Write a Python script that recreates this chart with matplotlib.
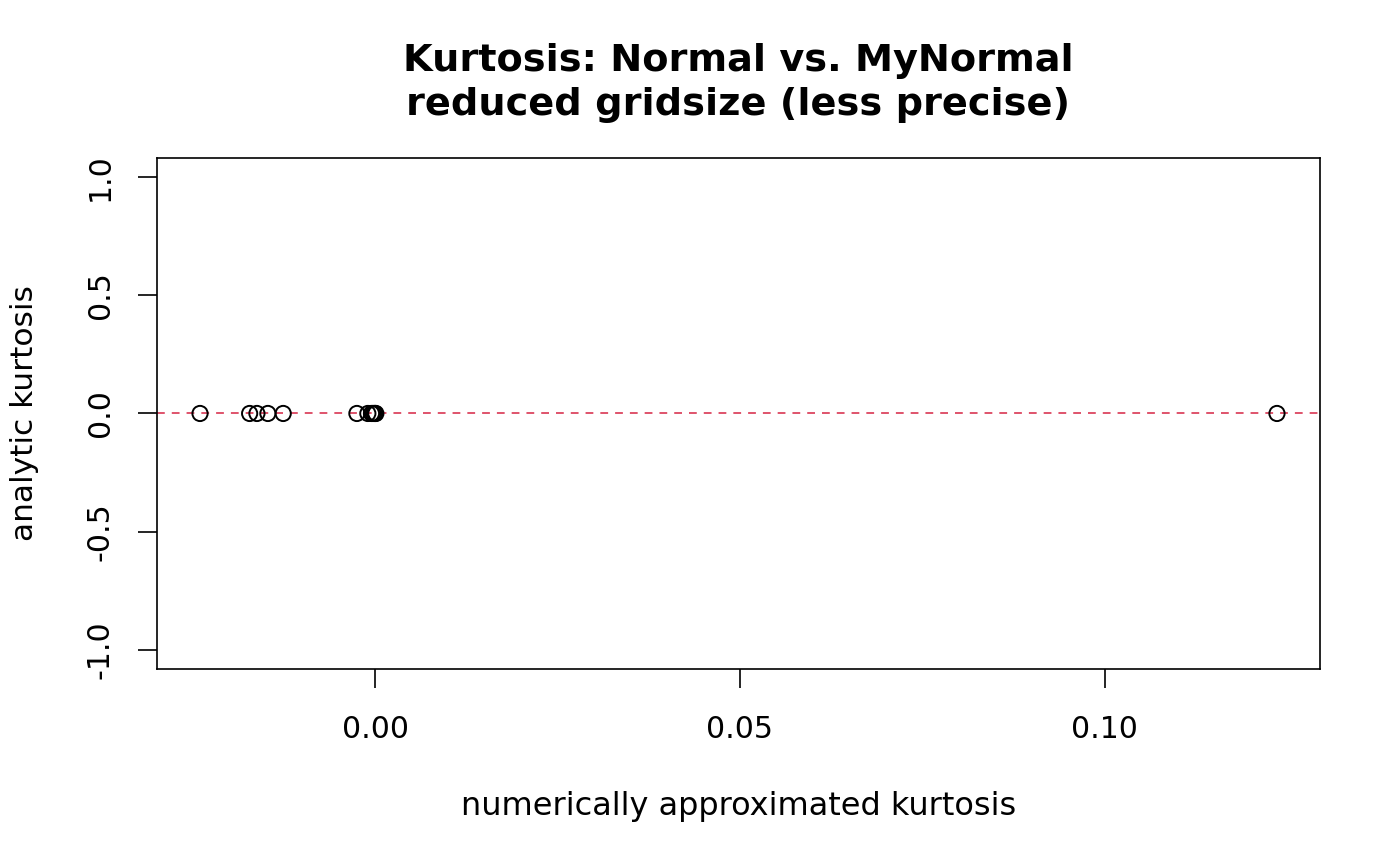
import numpy as np
import matplotlib.pyplot as plt

plt.rcParams['font.family'] = 'DejaVu Sans'

# numerically approximated kurtosis vs analytic kurtosis
numeric = [-0.0240, -0.0172, -0.0162, -0.0147, -0.0126, -0.0025,
           -0.0010, -0.0005, -0.0003, -0.0001, 0.0000, 0.0001, 0.1236]
analytic = [0.0] * len(numeric)
xticks = [0.00, 0.05, 0.10]
yticks = [-1.0, -0.5, 0.0, 0.5, 1.0]

fig = plt.figure(figsize=(14, 8.66), dpi=100)
ax = fig.add_axes([0.1121, 0.2275, 0.8308, 0.5901])

ax.scatter(numeric, analytic, s=120, facecolors='none', edgecolors='black',
           linewidths=1.4, zorder=3)
ax.axhline(0, color='#DF536B', linestyle=(0, (4, 3.6)), linewidth=1.4, zorder=2)

# R style: 4% padding on x, fixed y range
lo, hi = min(numeric), max(numeric)
pad = (hi - lo) * 0.04
ax.set_xlim(lo - pad, hi + pad)
ax.set_ylim(-1.08, 1.08)

ax.set_xticks(xticks)
ax.set_xticklabels(['%.2f' % v for v in xticks])
ax.set_yticks(yticks)
ax.set_yticklabels(['%.1f' % v for v in yticks], rotation=90, va='center')
ax.tick_params(direction='out', length=13.7, width=1.2, labelsize=21.5)
ax.tick_params(axis='x', pad=19.5)
ax.tick_params(axis='y', pad=16.5)
for s in ax.spines.values():
    s.set_linewidth(1.2)

ax.set_xlabel('numerically approximated kurtosis', fontsize=23, labelpad=34)
ax.set_ylabel('analytic kurtosis', fontsize=22.5, labelpad=34)
ax.set_title('Kurtosis: Normal vs. MyNormal\nreduced gridsize (less precise)',
             fontsize=27.5, fontweight='bold', pad=31, linespacing=1.28)

plt.savefig('out.png', dpi=100)
plt.close()
